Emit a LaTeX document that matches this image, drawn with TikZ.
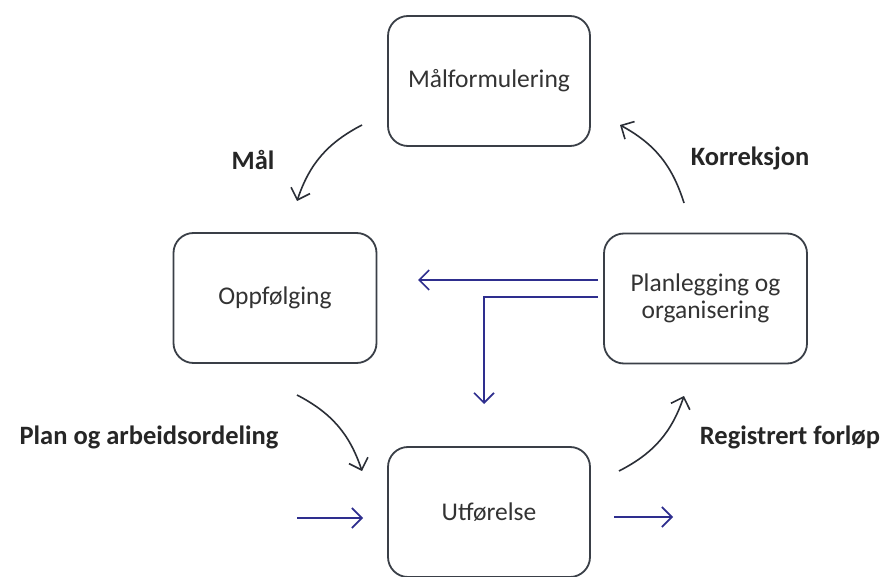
\documentclass[tikz,border=0pt]{standalone}
\usepackage{fontspec}
\setmainfont{Carlito}
\usetikzlibrary{arrows.meta}
\definecolor{boxline}{HTML}{3A3F47}
\definecolor{darkarrow}{HTML}{2A2E36}
\definecolor{bluearrow}{HTML}{2E2E8E}
\begin{document}
\begin{tikzpicture}[x=1pt,y=-1pt,
  stagebox/.style={draw=boxline,line width=1.8pt,rounded corners=20pt,
    minimum width=202pt,minimum height=130pt,align=center,inner sep=0pt,
    font=\fontsize{25.5}{27}\selectfont,text=black!80},
  lbl/.style={font=\fontsize{26.5}{28}\selectfont\bfseries,text=black!85,inner sep=0pt},
  darr/.style={draw=darkarrow,line width=1.6pt,-{Straight Barb[length=10pt,width=20pt,line width=1.6pt]}},
  barr/.style={draw=bluearrow,line width=1.6pt,-{Straight Barb[length=10pt,width=20pt,line width=1.6pt]}}]
\useasboundingbox (0,0) rectangle (881,577);
\fill[white] (0,0) rectangle (881,577);
% boxes
\node[stagebox] (mal) at (489,81) {Målformulering};
\node[stagebox, minimum width=203pt] (opp) at (275,298) {Oppfølging};
\node[stagebox, minimum width=203pt] (plan) at (705.5,298.5) {Planlegging og\\organisering};
\node[stagebox] (utf) at (489,512) {Utførelse};
% labels
\node[lbl] (lmal) at (253,160) {Mål};
\node[lbl] (lkor) at (750,158) {Korreksjon};
\node[lbl] (lplan) at (149,437) {Plan og arbeidsordeling};
\node[lbl] (lreg) at (790,437) {Registrert forløp};
% curved arrow endpoints
\coordinate (a1s) at (362,125);
\coordinate (a1e) at (297,201);
\coordinate (a2s) at (684,203);
\coordinate (a2e) at (620,125);
\coordinate (a3s) at (297,395);
\coordinate (a3e) at (362,471);
\coordinate (a4s) at (619,471);
\coordinate (a4e) at (684,396);
\draw[darr] (a1s) to[bend right=22] (a1e);
\draw[darr] (a2s) to[bend right=22] (a2e);
\draw[darr] (a3s) to[bend left=22] (a3e);
\draw[darr] (a4s) to[bend right=22] (a4e);
% blue arrows
\coordinate (b1s) at (598,280);
\coordinate (b1e) at (418,280);
\coordinate (b2s) at (598,297);
\coordinate (b2c) at (484,297);
\coordinate (b2e) at (484,404);
\coordinate (b3s) at (297,518);
\coordinate (b3e) at (363,518);
\coordinate (b4s) at (614,517);
\coordinate (b4e) at (673,517);
\draw[barr] (b1s) -- (b1e);
\draw[barr] (b2s) -- (b2c) -- (b2e);
\draw[barr] (b3s) -- (b3e);
\draw[barr] (b4s) -- (b4e);
\end{tikzpicture}
\end{document}
